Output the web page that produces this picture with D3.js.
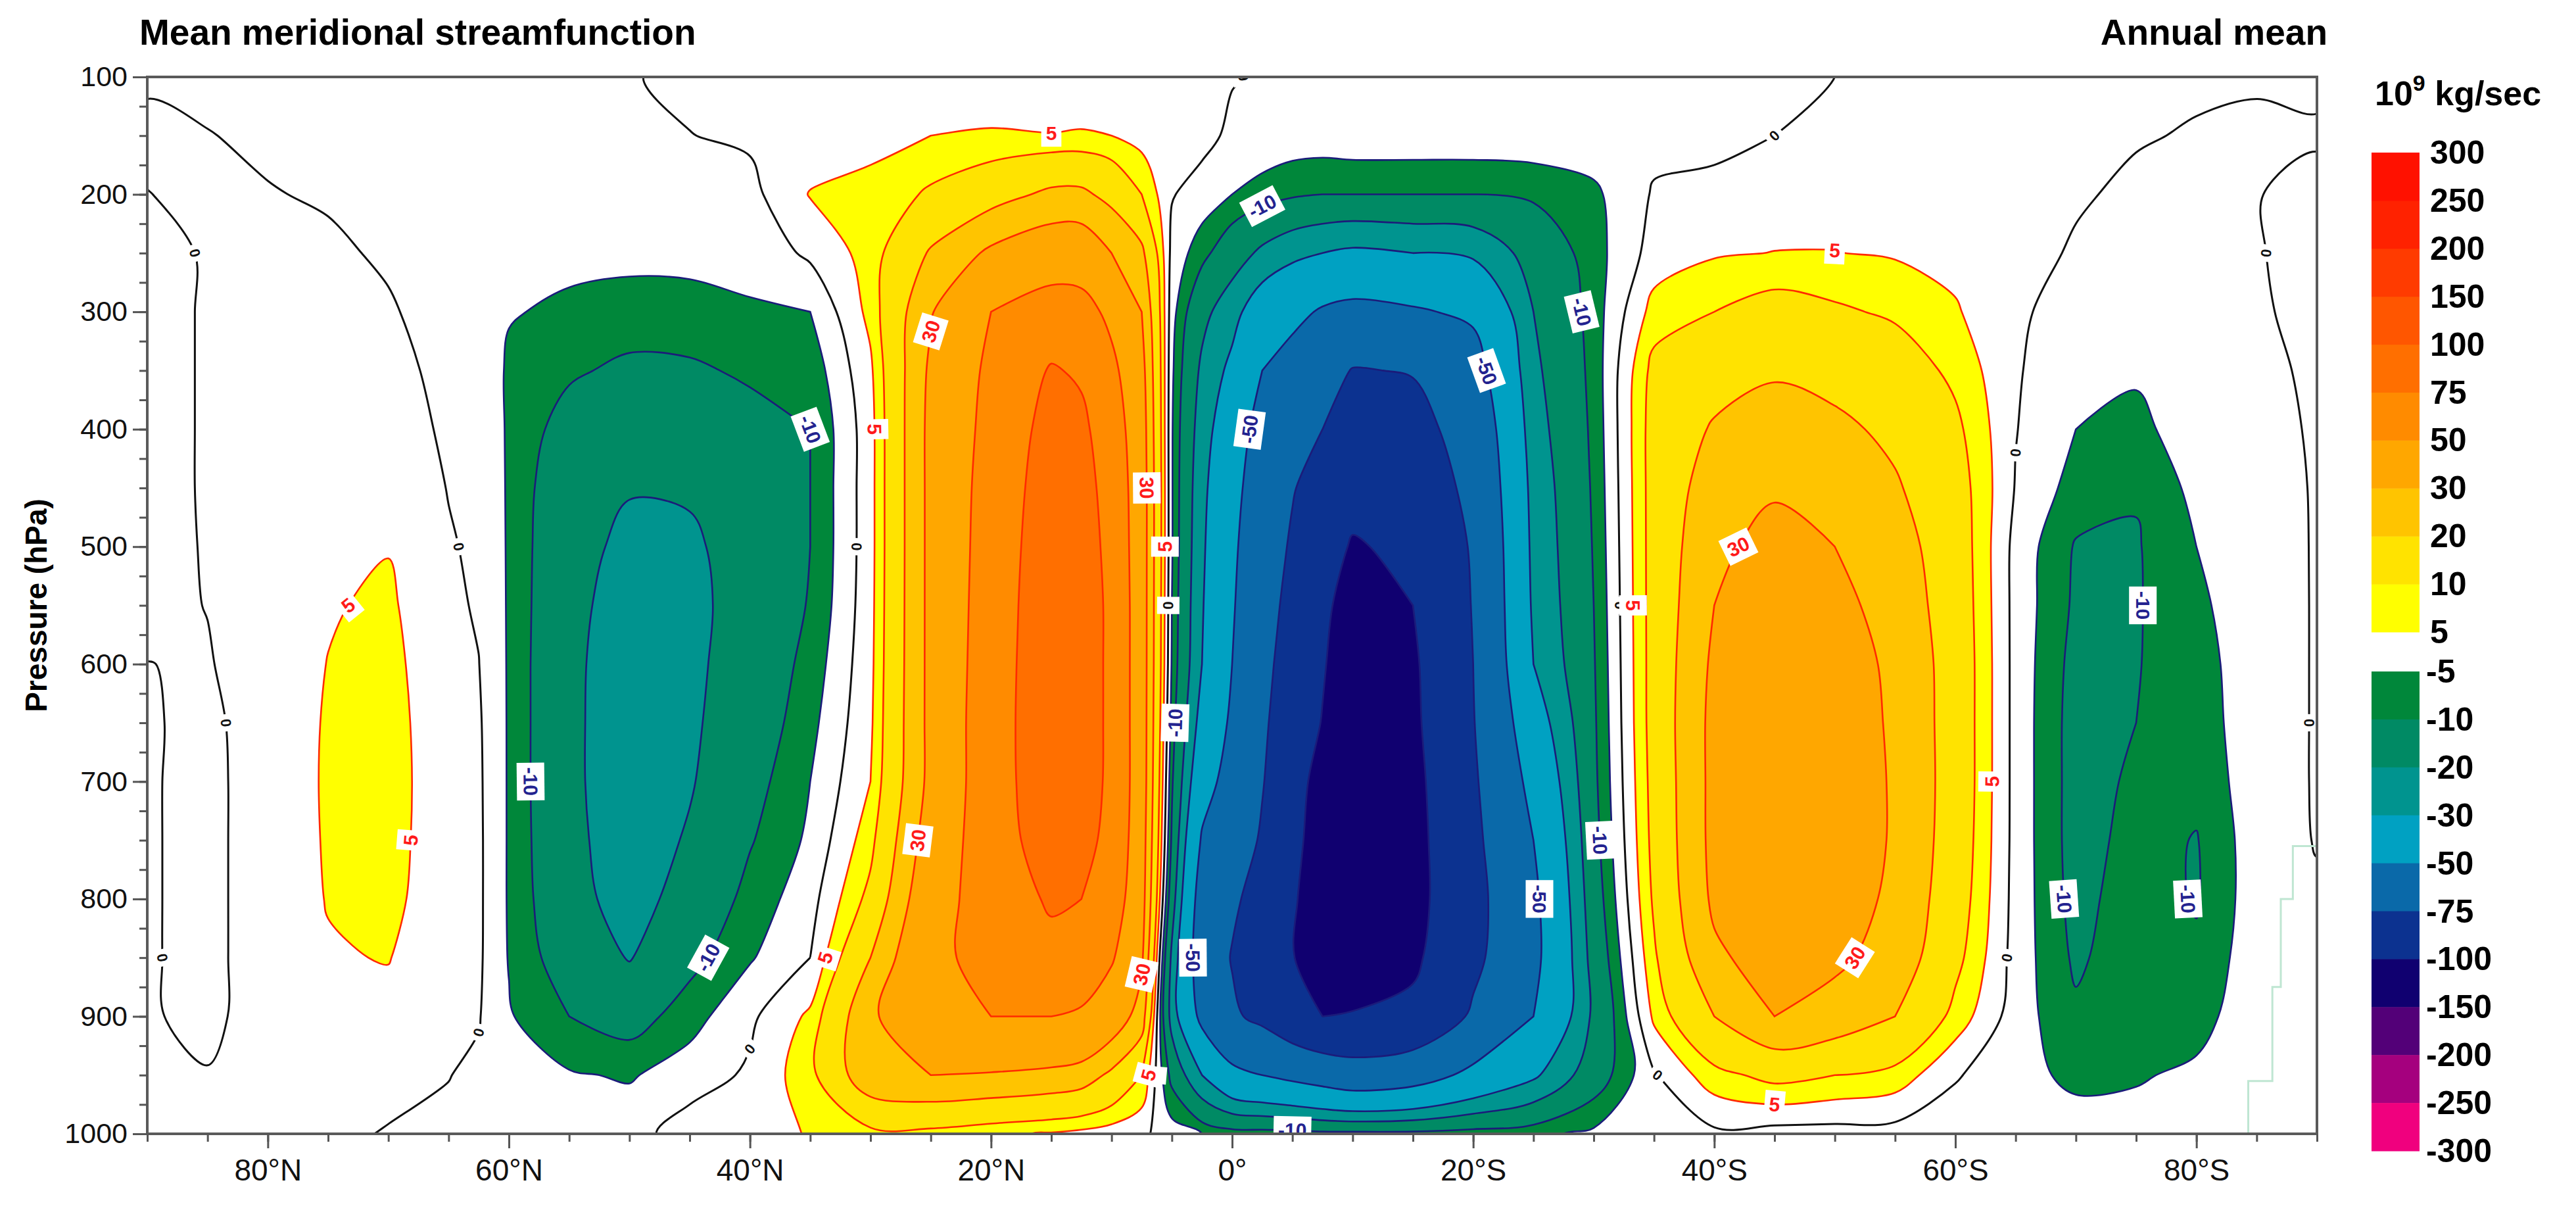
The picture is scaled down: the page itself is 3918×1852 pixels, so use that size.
<!DOCTYPE html>
<html>
<head>
<meta charset="utf-8">
<script src="https://cdn.jsdelivr.net/npm/d3@7.9.0/dist/d3.min.js"></script>
<style>
  body { margin: 0; background: #fff; }
</style>
</head>
<body>
<svg id="chart"></svg>
<script>
// grid nodes: latitude (N positive) and pressure levels (hPa)
const lats = [90, 85, 80, 75, 70, 65, 62.5, 60, 55, 50, 45, 40, 35, 30, 25, 20, 15, 12.5, 10, 7.5, 5, 2.5, 0,
  -2.5, -5, -7.5, -10, -15, -20, -25, -30, -35, -40, -45, -50, -55, -60, -65, -70, -75, -80, -85, -90];
const pressures = [100, 150, 200, 250, 300, 350, 400, 450, 500, 550, 600, 650, 700, 750, 800, 850, 900, 950, 1000];

// streamfunction (10^9 kg/s), one column per latitude, top (100 hPa) to bottom (1000 hPa)
const psi90N = [-0.6, 1, -0.1, -1.5, -1.5, -1.5, -1.5, -1.5, -1.5, -1, 0.05, 0.4, 0.4, 0.4, 0.4, 0.4, 0.4, 0.6, 1];
const psi85N = [-1.5, 0.2, 1, 0.4, 0.4, 0.4, 0.4, 0.4, 0.3, 0.1, -0.3, -1, -1.2, -1.2, -1.2, -1.2, -1, 0.2, 1];
const psi80N = [-2, -1, 0.3, 1, 1.3, 1.5, 1.8, 2, 2.2, 2.3, 2.3, 2.3, 2.3, 2.3, 2.3, 2.3, 2, 1.5, 1];
const psi75N = [-3, -2.5, -0.6, 1, 2, 2.8, 3.3, 3.8, 4.2, 4.6, 5.1, 5.4, 5.5, 5.4, 5.2, 4.6, 3.5, 2, 1];
const psi70N = [-3, -3, -2, -0.8, 0.6, 2, 3, 4, 4.8, 5.8, 6.5, 7, 7.2, 7, 6.5, 5.2, 3.5, 1.5, -0.3];
const psi65N = [-4, -4, -3.5, -3, -2.5, -1.8, -1, -0.2, 0.5, 1, 1.3, 1.5, 1.6, 1.6, 1.5, 1.3, 0.9, 0.1, -0.8];
const psi62N = [-4, -4, -4, -3.5, -3, -2.5, -2, -1.5, -1, -0.5, 0.1, 0.6, 0.8, 0.9, 0.9, 0.8, 0.3, -0.8, -2];
const psi60N = [-4, -4, -4, -4.2, -4.8, -5.5, -5.5, -5.5, -5.5, -5.5, -5.5, -5.5, -5.5, -5.5, -5.5, -5.3, -4.5, -3.5, -2.5];
const psi55N = [-3, -3.5, -4, -4.3, -5.5, -9, -13, -16, -17, -17.5, -18, -18, -18, -17.5, -16.5, -14, -10, -4.5, -2];
const psi50N = [-0.3, -2.5, -3.5, -4, -6.5, -11.5, -15.5, -19.5, -22, -24, -25, -25.5, -25.5, -25, -24, -20.5, -13, -5.5, -2];
const psi45N = [1, -0.1, -2, -3.8, -6.5, -11, -15.5, -19, -21.5, -22.5, -22, -21.5, -20.8, -19, -16, -12, -7, -2.5, 2.5];
const psi40N = [1.5, 0.8, -1.5, -3.5, -5.5, -9, -12.5, -15, -16, -16, -15.5, -14.5, -12.5, -10.5, -8, -5.5, -1, 0.8, 2];
const psi35N = [2, 1.5, 5.3, 1, -5, -8, -10, -10, -10, -9.5, -8, -6.5, -5, -4, -2, 0, 6, 8, 5.5];
const psi30N = [2.5, 4, 6, 7, 6.5, 4, 3, 3, 3, 3.2, 3.5, 4, 5, 8, 12, 20, 28, 27, 8];
const psi25N = [3, 5, 11, 21, 29, 32, 33, 33, 33, 33, 33, 33, 33, 36, 40, 44, 42, 30, 8];
const psi20N = [3, 5.3, 16, 32, 50, 54, 56, 58, 59, 60, 61, 62, 62, 62, 61, 58, 50, 29, 6];
const psi15N = [1, 5.2, 22, 38, 60, 77, 84, 88, 91, 93, 94, 94, 93, 88, 78, 68, 50, 27, 4.5];
const psi12N = [1, 5.5, 22, 38, 58, 72, 80, 84, 87, 88, 88, 88, 87, 83, 75, 65, 47, 25, 3.5];
const psi10N = [1, 5, 17, 30, 45, 55, 62, 66, 68, 70, 70, 70, 70, 68, 62, 52, 38, 18, 2.5];
const psi7N = [0.5, 3, 10, 22, 30, 34, 36, 37, 37, 37, 37, 37, 37, 36, 35, 32, 25, 10, 1];
const psi5N = [0.5, 1, 0.3, -1.5, -3, -4, -4.5, -4.5, -4.5, -5, -5.5, -7, -9, -11, -15, -22, -24, -12, -2.5];
const psi2N = [0.3, 1.5, -2, -8, -17, -22, -25, -27, -28, -29, -30, -35, -42, -52, -60, -62, -55, -30, -5];
const psiEq = [0.3, -1, -5, -15, -26, -33, -39, -43, -46, -48, -50, -53, -58, -65, -72, -76, -72, -45, -7];
const psi2S = [-0.5, -1.5, -7, -22, -38, -50, -58, -63, -66, -68, -70, -72, -74, -77, -82, -85, -80, -50, -7];
const psi5S = [-0.8, -2, -9, -27, -45, -58, -68, -74, -77, -80, -83, -86, -89, -93, -97, -99, -92, -55, -7];
const psi7S = [-1, -2, -10, -30, -52, -66, -75, -82, -90, -96, -98, -101, -110, -112, -114, -112, -100, -60, -8];
const psi10S = [-1, -1.5, -10, -32, -55, -76, -84, -92, -102, -108, -114, -118, -122, -124, -125, -120, -98, -65, -8];
const psi15S = [-1, -1.5, -10, -30, -52, -74, -82, -88, -95, -100, -103, -104, -106, -107, -107, -104, -95, -60, -8];
const psi20S = [-1, -1.5, -10, -28, -47, -58, -66, -70, -73, -74, -75, -76, -78, -80, -82, -80, -72, -45, -7];
const psi25S = [-1, -1.5, -9, -16, -20, -22, -24, -26, -27, -28, -30, -37, -44, -50, -54, -55, -50, -32, -6];
const psi30S = [-1, -2, -6, -7, -7.5, -8, -8.5, -9, -9.5, -10, -10.5, -11, -11.5, -12.5, -14, -16, -18, -14, -4];
const psi35S = [-0.5, -1.5, 0.5, 2, 7, 12, 13, 13, 13, 13, 13, 13, 12.5, 12, 11, 9, 6, -0.5, -4];
const psi40S = [-0.5, -1, 1, 4.5, 10, 16, 21, 25, 28, 30, 32, 33, 33, 33, 32, 28, 20, 8, -1];
const psi45S = [-0.5, 0, 2.5, 5.1, 13, 19, 24, 29, 33, 36, 38, 39, 39, 39, 38, 35, 30, 12, -2];
const psi50S = [0, 1.2, 3, 5.1, 11, 17, 22, 27, 30, 33, 35, 36, 36, 36, 35, 32, 26, 10, -2];
const psi55S = [0.5, 1.5, 3, 4.5, 9, 14, 18, 21, 24, 26, 28, 28.5, 29, 29, 28, 26, 20, 8, -2];
const psi60S = [0.8, 2, 3, 3.5, 5.5, 8.5, 11.5, 13.5, 14.5, 15, 15.5, 15.5, 15.5, 15, 14, 12, 8, 0.5, -3];
const psi65S = [0.5, 1, 1.2, 1, 0.8, 0.5, 0.2, -0.3, -1.6, -1.7, -1.7, -1.7, -1.7, -1.7, -1.8, -2, -2.5, -3.5, -4];
const psi70S = [0.5, 0.5, 0.3, -0.3, -2, -3.5, -5, -7, -10.5, -11, -12, -12.5, -12.5, -12.5, -12, -11, -9, -6, -3];
const psi75S = [0.5, 0.2, -0.5, -1.5, -3, -4.5, -6, -9.5, -10.5, -10.5, -10.3, -10, -9, -8, -7, -6.5, -6.5, -5.5, -3];
const psi80S = [0.4, -0.2, -0.5, -1, -1.5, -2.2, -3, -3.5, -5, -6, -7, -7.5, -8.5, -10.3, -10.5, -9, -7, -4, -3];
const psi85S = [0.3, -0.5, -0.1, -0.15, -0.3, -0.7, -1.2, -1.6, -1.9, -2, -2, -2, -2, -2, -2, -1.8, -1.5, -1, -0.5];
const psi90S = [0.5, -0.3, 0.8, 0.8, 0.7, 0.5, 0.4, 0.3, 0.3, 0.3, 0.3, 0.3, 0.3, 0.2, -0.5, -1, -1, -1, -1];

const columns = [psi90N, psi85N, psi80N, psi75N, psi70N, psi65N, psi62N, psi60N, psi55N, psi50N, psi45N, psi40N,
  psi35N, psi30N, psi25N, psi20N, psi15N, psi12N, psi10N, psi7N, psi5N, psi2N, psiEq, psi2S, psi5S, psi7S, psi10S,
  psi15S, psi20S, psi25S, psi30S, psi35S, psi40S, psi45S, psi50S, psi55S, psi60S, psi65S, psi70S, psi75S, psi80S,
  psi85S, psi90S];

// colour scale
const posLevels = [5, 10, 20, 30, 50, 75, 100, 150, 200, 250, 300];
const posColors = ["#ffff00", "#ffe300", "#ffc400", "#ffa700", "#ff8b00", "#ff6f00", "#ff5600", "#ff3b00", "#ff2200", "#ff1100"];
const negLevels = [-5, -10, -20, -30, -50, -75, -100, -150, -200, -250, -300];
const negColors = ["#00873a", "#008a64", "#00948f", "#00a1c2", "#0a69a9", "#0c3290", "#100070", "#530078", "#a5007e", "#f0007e"];

// contour labels (latitude, pressure, level) as placed in the picture
const labelLat = [85.1, 83.8, 88, 63.4, 62.3, 31.1, 40.5, -2, 6.5, 5.3, -31.4, -46.6, -36.3, -65.2, -64.8, -85.5, -89.5,
  17.5, 73, 67.1, 29.5, 34.4, 5.5, 7.3, -48.4, -63.4, -32.3, -44.2,
  25, 27.5, 6.8, 8.4, -40.8, -54.1,
  34.8, 58.6, 42.7, -3, -28, 4.8, -31, -5.5, -75.2, -67.8, -78.5,
  -1.5, -20.9, 3.4, -25.8];
const labelP = [241, 655, 842, 521, 924, 517, 915, 111, 957, 552, 533, 185, 961, 421, 852, 240, 659,
  165, 555, 752, 412, 842, 514, 947, 255, 692, 556, 975,
  325, 765, 435, 878, 524, 832,
  374, 678, 850, 224, 292, 645, 737, 985, 542, 777, 780,
  389, 371, 849, 813];
const labelLevel = [0, 0, 0, 0, 0, 0, 0, 0, 0, 0, 0, 0, 0, 0, 0, 0, 0,
  5, 5, 5, 5, 5, 5, 5, 5, 5, 5, 5,
  30, 30, 30, 30, 30, 30,
  -10, -10, -10, -10, -10, -10, -10, -10, -10, -10, -10,
  -50, -50, -50, -50];

// topography edge near the South Pole
const maskLat = [-90, -88, -88, -87, -87, -86.3, -86.3, -84.3, -84.3];
const maskP = [755, 755, 800, 800, 875, 875, 955, 955, 1000];

const latTicks = d3.range(90, -91, -5);
const latLabels = [80, 60, 40, 20, 0, -20, -40, -60, -80];
const pTicks = d3.range(100, 1001, 25);
const pLabels = d3.range(100, 1001, 100);

// ---------------------------------------------------------------
const W = 3918, H = 1852;
const plot = { left: 224, right: 3524, top: 117, bottom: 1724 };
const font = "'Liberation Sans', Arial, Helvetica, sans-serif";

const svg = d3.select("#chart")
  .attr("width", W)
  .attr("height", H)
  .style("font-family", font);

svg.append("rect").attr("width", W).attr("height", H).attr("fill", "#fff");

const x = d3.scaleLinear().domain([90, -90]).range([plot.left, plot.right]);
const y = d3.scaleLinear().domain([100, 1000]).range([plot.top, plot.bottom]);

const nx = lats.length, ny = pressures.length;
const grid = new Array(nx * ny);
for (let j = 0; j < ny; j++) {
  for (let i = 0; i < nx; i++) grid[j * nx + i] = columns[i][j];
}
const neg = grid.map(v => -v);

// grid coordinates (value i sits at i + 0.5) -> lat / pressure
const gLat = d3.scaleLinear().domain(lats.map((d, i) => i + 0.5)).range(lats);
const gP = d3.scaleLinear().domain(pressures.map((d, j) => j + 0.5)).range(pressures);
const toPx = ([u, v]) => [x(gLat(u)), y(gP(v))];

const gen = d3.contours().size([nx, ny]);
const smooth = d3.line().curve(d3.curveCatmullRomClosed.alpha(0.5));

function ringPts(ring) {
  const r = ring.slice();
  const a = r[0], b = r[r.length - 1];
  if (a[0] === b[0] && a[1] === b[1]) r.pop();
  return r.map(toPx);
}
const geomD = g => g.coordinates.map(poly => poly.map(r => smooth(ringPts(r))).join("")).join("");

function levelGeom(level) {
  if (level > 0) return gen.contour(grid, level);
  if (level < 0) return gen.contour(neg, -level);
  return gen.contour(grid, 0);
}

svg.append("defs").append("clipPath").attr("id", "clip")
  .append("rect")
  .attr("x", plot.left).attr("y", plot.top)
  .attr("width", plot.right - plot.left).attr("height", plot.bottom - plot.top);

const field = svg.append("g").attr("clip-path", "url(#clip)");

// filled bands
posLevels.slice(0, -1).forEach((t, k) => {
  field.append("path")
    .attr("d", geomD(gen.contour(grid, t)))
    .attr("fill", posColors[k])
    .attr("fill-rule", "evenodd");
});
negLevels.slice(0, -1).forEach((t, k) => {
  field.append("path")
    .attr("d", geomD(gen.contour(neg, -t)))
    .attr("fill", negColors[k])
    .attr("fill-rule", "evenodd");
});

// contour lines
[5, 10, 20, 30, 50, 75].forEach(t => {
  field.append("path").attr("d", geomD(levelGeom(t)))
    .attr("fill", "none").attr("stroke", "#ff2a00").attr("stroke-width", 2.6);
});
[-5, -10, -20, -30, -50, -75, -100].forEach(t => {
  field.append("path").attr("d", geomD(levelGeom(t)))
    .attr("fill", "none").attr("stroke", "#1b1b7a").attr("stroke-width", 2.6);
});
field.append("path").attr("d", geomD(levelGeom(0)))
  .attr("fill", "none").attr("stroke", "#111").attr("stroke-width", 3);

// topography step line
field.append("path")
  .attr("d", d3.line()(maskLat.map((d, i) => [x(d), y(maskP[i])])))
  .attr("fill", "none").attr("stroke", "#bfe6d2").attr("stroke-width", 3);

// contour labels
const ringCache = new Map();
function ringsFor(level) {
  if (!ringCache.has(level)) {
    ringCache.set(level, levelGeom(level).coordinates.flat().map(ringPts));
  }
  return ringCache.get(level);
}
const labels = field.append("g");
labelLat.forEach((lat, k) => {
  const level = labelLevel[k];
  const ax = x(lat), ay = y(labelP[k]);
  let best = null, bestD = Infinity;
  ringsFor(level).forEach(r => {
    r.forEach((p, i) => {
      if (p[0] < plot.left || p[0] > plot.right || p[1] < plot.top || p[1] > plot.bottom) return;
      const d = (p[0] - ax) ** 2 + (p[1] - ay) ** 2;
      if (d < bestD) { bestD = d; best = { r, i }; }
    });
  });
  if (!best) return;
  const n = best.r.length;
  const p0 = best.r[(best.i - 2 + n) % n], p1 = best.r[(best.i + 2) % n];
  let ang = Math.atan2(p1[1] - p0[1], p1[0] - p0[0]) * 180 / Math.PI;
  if (ang > 90) ang -= 180;
  if (ang <= -90) ang += 180;
  const [px, py] = best.r[best.i];
  const fs = level === 0 ? 22 : 30;
  const g = labels.append("g").attr("transform", `translate(${px},${py}) rotate(${ang})`);
  const rect = g.append("rect").attr("fill", "#fff");
  const t = g.append("text")
    .attr("text-anchor", "middle")
    .attr("dominant-baseline", "central")
    .attr("font-size", fs)
    .attr("font-weight", "bold")
    .attr("fill", level > 0 ? "#ff1a1a" : level < 0 ? "#23238f" : "#111")
    .text(String(level));
  const w = t.node().getComputedTextLength();
  rect.attr("x", -w / 2 - 7).attr("y", -fs / 2 - 6).attr("width", w + 14).attr("height", fs + 12);
});

// frame
svg.append("rect")
  .attr("x", plot.left).attr("y", plot.top)
  .attr("width", plot.right - plot.left).attr("height", plot.bottom - plot.top)
  .attr("fill", "none").attr("stroke", "#5a5a5a").attr("stroke-width", 4);

// axes
function styleAxis(size) {
  return g => {
    g.select(".domain").remove();
    g.selectAll("line").attr("stroke", "#555").attr("stroke-width", 3);
    g.selectAll("text").attr("font-size", size).attr("fill", "#111").style("font-family", font);
  };
}
const fmtLat = d => d === 0 ? "0°" : Math.abs(d) + "°" + (d > 0 ? "N" : "S");

svg.append("g").attr("transform", `translate(0,${plot.bottom})`)
  .call(d3.axisBottom(x).tickValues(latTicks).tickSize(12).tickSizeOuter(0).tickFormat(""))
  .call(styleAxis(46));
svg.append("g").attr("transform", `translate(0,${plot.bottom})`)
  .call(d3.axisBottom(x).tickValues(latLabels).tickSize(22).tickPadding(16).tickSizeOuter(0).tickFormat(fmtLat))
  .call(styleAxis(46));

svg.append("g").attr("transform", `translate(${plot.left},0)`)
  .call(d3.axisLeft(y).tickValues(pTicks).tickSize(12).tickSizeOuter(0).tickFormat(""))
  .call(styleAxis(43));
svg.append("g").attr("transform", `translate(${plot.left},0)`)
  .call(d3.axisLeft(y).tickValues(pLabels).tickSize(22).tickPadding(8).tickSizeOuter(0).tickFormat(d3.format("d")))
  .call(styleAxis(43));

svg.append("text")
  .attr("transform", `translate(55,${(plot.top + plot.bottom) / 2}) rotate(-90)`)
  .attr("text-anchor", "middle")
  .attr("dominant-baseline", "central")
  .attr("font-size", 46)
  .attr("font-weight", "bold")
  .text("Pressure (hPa)");

// titles
svg.append("text").attr("x", 212).attr("y", 68)
  .attr("font-size", 55).attr("font-weight", "bold")
  .text("Mean meridional streamfunction");
svg.append("text").attr("x", 3540).attr("y", 68)
  .attr("text-anchor", "end")
  .attr("font-size", 55).attr("font-weight", "bold")
  .text("Annual mean");

// colour bar
const cb = { x: 3607, w: 73 };
const posY = d3.scaleLinear().domain([0, 10]).range([961, 232]);
const negY = d3.scaleLinear().domain([0, 10]).range([1021, 1750]);
const bar = svg.append("g");
posColors.forEach((c, k) => {
  bar.append("rect").attr("x", cb.x).attr("y", posY(k + 1)).attr("width", cb.w)
    .attr("height", posY(k) - posY(k + 1) + 0.5).attr("fill", c);
});
negColors.forEach((c, k) => {
  bar.append("rect").attr("x", cb.x).attr("y", negY(k)).attr("width", cb.w)
    .attr("height", negY(k + 1) - negY(k) + 0.5).attr("fill", c);
});
posLevels.forEach((v, k) => {
  bar.append("text").attr("x", cb.x + cb.w + 16).attr("y", posY(k))
    .attr("dominant-baseline", "central").attr("font-size", 50).attr("font-weight", "bold")
    .text(v);
});
negLevels.forEach((v, k) => {
  bar.append("text").attr("x", cb.x + cb.w + 10).attr("y", negY(k))
    .attr("dominant-baseline", "central").attr("font-size", 50).attr("font-weight", "bold")
    .text(v);
});

const unit = svg.append("text").attr("x", 3612).attr("y", 160)
  .attr("font-size", 52).attr("font-weight", "bold");
unit.append("tspan").text("10");
unit.append("tspan").attr("font-size", 34).attr("dy", -22).text("9");
unit.append("tspan").attr("dy", 22).text(" kg/sec");
</script>
</body>
</html>
